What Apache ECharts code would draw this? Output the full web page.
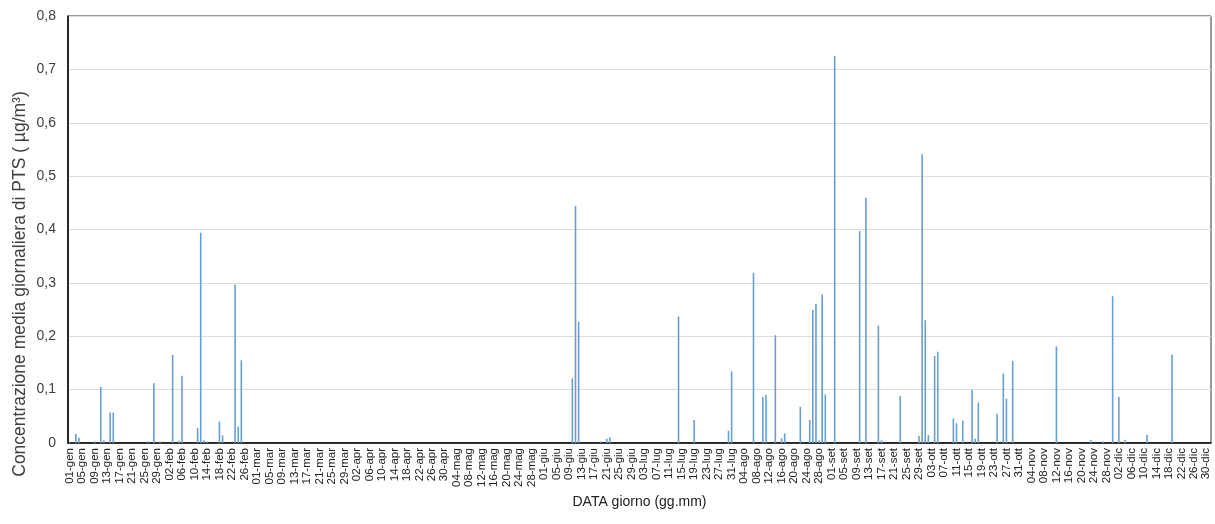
<!DOCTYPE html>
<html>
<head>
<meta charset="utf-8">
<script src="https://cdn.jsdelivr.net/npm/echarts@6/dist/echarts.min.js"></script>
<style>
html, body { margin: 0; padding: 0; background: #fff; }
#chart { width: 1215px; height: 524px; }
</style>
</head>
<body>
<div id="chart"></div>
<script>
// asse x: giorni dell'anno (bisestile)
var monthNames = ['gen', 'feb', 'mar', 'apr', 'mag', 'giu', 'lug', 'ago', 'set', 'ott', 'nov', 'dic'];
var monthDays = [31, 29, 31, 30, 31, 30, 31, 31, 30, 31, 30, 31];

// giorni con valore
var sampleDays = [
    '01-gen', '03-gen', '04-gen', '09-gen', '11-gen', '12-gen', '14-gen', '15-gen', '26-gen', '28-gen', '30-gen',
    '03-feb', '05-feb', '06-feb', '11-feb', '12-feb', '13-feb', '14-feb', '18-feb', '19-feb', '23-feb', '24-feb', '25-feb',
    '10-giu', '11-giu', '12-giu', '19-giu', '21-giu', '22-giu',
    '14-lug', '19-lug', '30-lug', '31-lug',
    '07-ago', '10-ago', '11-ago', '14-ago', '16-ago', '17-ago', '22-ago', '25-ago', '26-ago', '27-ago', '28-ago', '29-ago', '30-ago',
    '02-set', '10-set', '12-set', '16-set', '17-set', '23-set', '29-set', '30-set',
    '01-ott', '02-ott', '04-ott', '05-ott', '10-ott', '11-ott', '13-ott', '16-ott', '17-ott', '18-ott', '24-ott', '26-ott', '27-ott', '29-ott',
    '12-nov', '23-nov', '27-nov', '30-nov',
    '02-dic', '04-dic', '11-dic', '19-dic'
];
var sampleValues = [
    0.003, 0.017, 0.010, 0.003, 0.105, 0.005, 0.057, 0.057, 0.003, 0.112, 0.003,
    0.165, 0.004, 0.126, 0.028, 0.394, 0.005, 0.003, 0.040, 0.014, 0.297, 0.031, 0.155,
    0.121, 0.444, 0.227, 0.003, 0.008, 0.011,
    0.237, 0.043, 0.023, 0.134,
    0.319, 0.086, 0.090, 0.202, 0.009, 0.018, 0.068, 0.043, 0.249, 0.261, 0.005, 0.278, 0.091,
    0.725, 0.397, 0.459, 0.220, 0.005, 0.088, 0.013, 0.541,
    0.230, 0.015, 0.163, 0.171, 0.046, 0.037, 0.042, 0.100, 0.008, 0.076, 0.055, 0.130, 0.083, 0.154,
    0.181, 0.006, 0.003, 0.275,
    0.086, 0.006, 0.015, 0.166
];

var categories = [];
monthNames.forEach(function (m, k) {
    for (var d = 1; d <= monthDays[k]; d++) {
        categories.push((d < 10 ? '0' + d : '' + d) + '-' + m);
    }
});
var values = categories.map(function () { return null; });
sampleDays.forEach(function (day, k) {
    values[categories.indexOf(day)] = sampleValues[k];
});

var chart = echarts.init(document.getElementById('chart'));
var font = 'Liberation Sans, Arial, sans-serif';

var option = {
    animation: false,
    backgroundColor: '#fff',
    grid: {
        left: 68, right: 4, top: 16, bottom: 81,
        show: true, borderColor: '#333', borderWidth: 1
    },
    xAxis: [
        {
            type: 'category',
            data: categories,
            name: 'DATA giorno (gg.mm)',
            nameLocation: 'middle',
            nameGap: 49,
            nameTextStyle: { fontFamily: font, fontSize: 14, color: '#222' },
            axisLine: { lineStyle: { color: '#000', width: 1.5 } },
            axisTick: { interval: 3, alignWithLabel: true, length: 4, lineStyle: { color: '#000', width: 1.2 } },
            axisLabel: {
                interval: 3, rotate: 90, margin: 5,
                fontFamily: font, fontSize: 11.5, color: '#222'
            }
        },
        {
            type: 'category',
            data: categories,
            position: 'bottom',
            axisLine: { show: false },
            axisTick: { inside: true, interval: 3, alignWithLabel: true, length: 5, lineStyle: { color: '#000', width: 1.2 } },
            axisLabel: { show: false }
        }
    ],
    yAxis: {
        type: 'value',
        min: 0, max: 0.8, interval: 0.1,
        axisLine: { show: true, lineStyle: { color: '#000', width: 1.5 } },
        axisTick: { show: false },
        splitLine: { lineStyle: { color: '#dcdcdc', width: 1.2 } },
        axisLabel: {
            margin: 12,
            fontFamily: font, fontSize: 14, color: '#404040',
            formatter: function (v) {
                var r = Math.round(v * 10) / 10;
                return r === 0 ? '0' : r.toFixed(1).replace('.', ',');
            }
        }
    },
    graphic: [{
        type: 'text',
        x: 20, y: 284,
        rotation: Math.PI / 2,
        style: {
            text: 'Concentrazione media giornaliera di PTS ( \u00b5g/m\u00b3)',
            font: '17.5px ' + font,
            fill: '#404040',
            textAlign: 'center',
            textVerticalAlign: 'middle'
        }
    }],
    series: [{
        type: 'bar',
        data: values,
        barWidth: 1.6,
        itemStyle: { color: '#6a9ecf' }
    }]
};
chart.setOption(option);
</script>
</body>
</html>
